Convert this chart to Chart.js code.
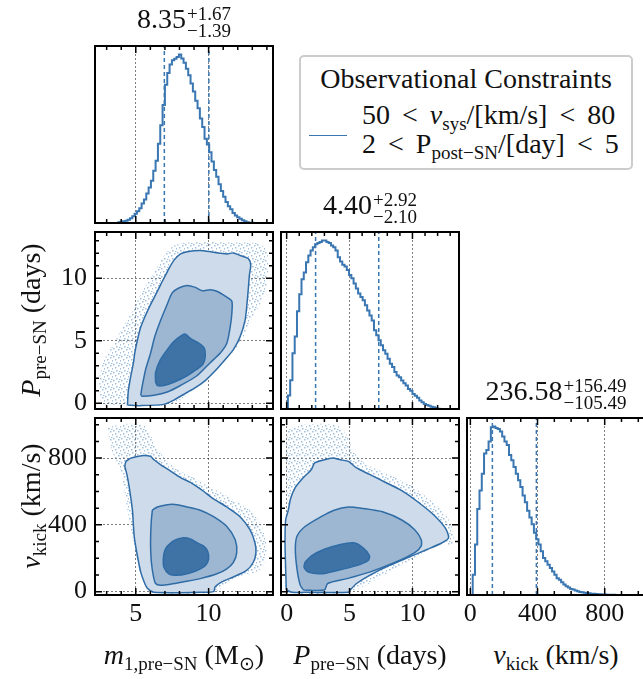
<!DOCTYPE html>
<html lang="en">
<head>
<meta charset="UTF-8">
<script src="https://cdn.jsdelivr.net/npm/chart.js"></script>
<title>Corner plot</title>
<style>
  body { margin: 0; background: #fff; }
  #fig { position: relative; width: 643px; height: 679px; overflow: hidden; font-family: "Liberation Serif", serif; color: #111; }
  #fig canvas { position: absolute; }
  .txt { position: absolute; white-space: nowrap; transform: translate(-50%, -50%); font-size: 28px; line-height: 1; }
  .rot { transform: translate(-50%, -50%) rotate(-90deg); }
  .ss { display: inline-block; vertical-align: middle; font-size: 19px; line-height: 17px; text-align: left; margin-left: 1px; }
  .ss span { display: block; }
  sub { font-size: 19px; vertical-align: -6px; line-height: 0; }
  .legend { position: absolute; left: 299px; top: 55px; width: 330px; height: 111px; border: 2px solid #ccc; border-radius: 5px; background: rgba(255,255,255,0.8); }
  .legend .row { position: absolute; white-space: nowrap; font-size: 28px; line-height: 1; transform: translateY(-50%); }
  .legend .math { word-spacing: 5px; }
  .legend .handle { position: absolute; left: 8px; top: 78px; width: 38px; height: 0; border-top: 1.5px solid #3a77b2; }
</style>
</head>
<body>
<div id="fig">
  <div class="txt" style="left:184px;top:22px">8.35<span class="ss"><span>+1.67</span><span>−1.39</span></span></div>
  <div class="txt" style="left:370px;top:208px">4.40<span class="ss"><span>+2.92</span><span>−2.10</span></span></div>
  <div class="txt" style="left:556px;top:394px">236.58<span class="ss"><span>+156.49</span><span>−105.49</span></span></div>

  <div class="txt" style="left:184px;top:655px"><i>m</i><sub>1,pre−SN</sub> (M<sub>⊙</sub>)</div>
  <div class="txt" style="left:370px;top:655px"><i>P</i><sub>pre−SN</sub> (days)</div>
  <div class="txt" style="left:556px;top:655px"><i>v</i><sub>kick</sub> (km/s)</div>
  <div class="txt rot" style="left:31px;top:320px"><i>P</i><sub>pre−SN</sub> (days)</div>
  <div class="txt rot" style="left:31px;top:506px"><i>v</i><sub>kick</sub> (km/s)</div>

  <div class="legend">
    <div class="row" style="left:0;width:330px;text-align:center;top:22px">Observational Constraints</div>
    <div class="row math" style="left:61px;top:58px">50 &lt; <i>v</i><sub>sys</sub>/[km/s] &lt; 80</div>
    <div class="row math" style="left:61px;top:87px">2 &lt; P<sub>post−SN</sub>/[day] &lt; 5</div>
    <div class="handle"></div>
  </div>
</div>

<script>
// axis ranges and ticks
const m1Range = [2.2, 14.42];
const pRange = [-0.45, 13.7];
const vRange = [-20, 1040];
const m1Major = [5, 10];
const pMajor = [0, 5, 10];
const vMajor = [0, 400, 800];
const m1Minor = [3, 4, 6, 7, 8, 9, 11, 12, 13, 14];
const pMinor = [1, 2, 3, 4, 6, 7, 8, 9, 11, 12, 13];
const vMinor = [100, 200, 300, 500, 600, 700, 900, 1000];

// 16/50/84 percentiles
const m1Quant = [6.96, 10.02];
const pQuant = [2.30, 7.32];
const vQuant = [131.09, 393.07];

// histograms (first bin edge, bin width, heights relative to peak)
const m1Start = 3.8, m1Width = 0.16;
const m1Counts = [0.002, 0.004, 0.007, 0.01, 0.014, 0.02, 0.028, 0.04, 0.055, 0.07, 0.088, 0.115, 0.14, 0.175, 0.21,
  0.25, 0.31, 0.37, 0.47, 0.58, 0.70, 0.82, 0.89, 0.94, 0.965, 0.975, 0.985, 1.0, 0.976, 0.95, 0.915, 0.876, 0.827,
  0.78, 0.725, 0.68, 0.62, 0.57, 0.50, 0.465, 0.42, 0.365, 0.315, 0.275, 0.23, 0.19, 0.155, 0.125, 0.10, 0.082, 0.06,
  0.044, 0.034, 0.025, 0.016, 0.01, 0.005, 0.002, 0.001];
const pStart = 0.1, pWidth = 0.18;
const pCounts = [0.01, 0.08, 0.17, 0.33, 0.43, 0.58, 0.68, 0.77, 0.81, 0.87, 0.91, 0.94, 0.96, 0.977, 0.985, 0.99, 1.0,
  1.0, 0.99, 0.985, 0.97, 0.96, 0.94, 0.90, 0.875, 0.855, 0.845, 0.825, 0.795, 0.775, 0.745, 0.715, 0.685, 0.665, 0.645,
  0.615, 0.585, 0.555, 0.525, 0.467, 0.437, 0.408, 0.378, 0.348, 0.328, 0.298, 0.268, 0.249, 0.219, 0.199, 0.189, 0.169,
  0.153, 0.139, 0.119, 0.109, 0.089, 0.079, 0.066, 0.05, 0.04, 0.03, 0.024, 0.02, 0.014, 0.01, 0.006, 0.002];
const vStart = 14, vWidth = 13.5;
const vCounts = [0.01, 0.12, 0.30, 0.51, 0.62, 0.72, 0.84, 0.86, 0.91, 0.995, 1.0, 0.99, 0.985, 0.97, 0.94, 0.91, 0.89,
  0.83, 0.80, 0.76, 0.72, 0.68, 0.64, 0.59, 0.55, 0.50, 0.46, 0.42, 0.37, 0.33, 0.30, 0.26, 0.22, 0.20, 0.18, 0.16, 0.14,
  0.12, 0.10, 0.09, 0.075, 0.063, 0.052, 0.044, 0.036, 0.032, 0.026, 0.022, 0.018, 0.016, 0.014, 0.012, 0.010, 0.008,
  0.007, 0.006, 0.005, 0.004, 0.003, 0.003, 0.002, 0.002, 0.001, 0.001];

// contours, m1 vs P  ([m1, P])
const mpHalo = [[2.61, 0], [2.5, 1.95], [2.84, 3.51], [3.52, 4.81], [4.09, 6.10], [4.66, 7.14], [5.11, 8.18], [5.57, 9.22],
  [6.14, 10.26], [6.59, 11.17], [7.05, 11.95], [7.61, 12.60], [8.52, 12.86], [9.89, 12.91], [11.70, 12.86], [13.30, 12.81],
  [13.98, 12.34], [14.09, 10.78], [13.86, 8.70], [13.41, 7.66], [12.89, 6.62], [12.16, 4.81], [9.43, 1.43], [7.16, -0.13], [2.61, -0.08]];
const mpOuter = [[4.43, -0.13], [4.48, 0.91], [4.66, 2.21], [4.84, 3.25], [4.93, 4.03], [5.11, 5.06], [5.34, 6.10], [5.61, 6.88],
  [5.91, 7.66], [6.25, 8.44], [6.70, 9.48], [7.16, 10.52], [7.61, 11.43], [8.07, 11.95], [8.52, 12.13], [9.43, 12.23],
  [10.34, 12.08], [11.25, 11.95], [11.70, 12.03], [12.16, 11.82], [12.73, 11.56], [12.89, 11.04], [12.80, 10.26], [12.73, 9.22],
  [12.61, 7.66], [12.5, 6.62], [12.16, 5.32], [11.70, 4.29], [11.14, 3.51], [10.45, 2.60], [9.77, 1.82], [8.98, 1.17],
  [8.18, 0.65], [7.61, 0.26], [6.93, -0.08], [5.34, -0.18]];
const mpMiddle = [[5.34, 0.65], [5.45, 1.43], [5.68, 2.73], [6.02, 4.03], [6.30, 5.32], [6.70, 6.62], [7.16, 7.92], [7.5, 8.83],
  [7.95, 9.22], [8.52, 9.43], [9.09, 9.27], [9.55, 9.01], [10.11, 9.09], [10.57, 8.96], [11.14, 8.57], [11.59, 8.18],
  [11.59, 7.14], [11.48, 6.10], [11.25, 4.81], [10.80, 4.03], [10.11, 3.25], [9.20, 2.21], [8.07, 1.43], [7.16, 0.91],
  [6.25, 0.65], [5.45, 0.57]];
const mpInner = [[6.36, 1.69], [6.36, 2.47], [6.70, 3.51], [7.16, 4.29], [7.61, 4.94], [8.18, 5.45], [8.41, 5.53], [8.75, 5.19],
  [9.32, 4.81], [9.70, 4.42], [9.77, 3.77], [9.61, 3.12], [9.20, 2.73], [8.52, 2.21], [7.61, 1.69], [6.93, 1.43], [6.48, 1.43]];

// contours, m1 vs v_kick  ([m1, v])
const mvHalo = [[3.07, 985], [4.43, 1005], [5.57, 995], [6.02, 936], [6.48, 858], [7.16, 780], [8.07, 722], [8.98, 683],
  [9.89, 634], [11.02, 585], [12.16, 527], [13.07, 468], [13.75, 371], [13.98, 254], [13.75, 156], [13.30, 117], [11.70, 78],
  [10.34, -4], [6.25, -4], [5.34, 98], [4.43, 488], [3.98, 722], [3.30, 858]];
const mvOuter = [[4.32, 780], [4.66, 800], [5.11, 810], [5.57, 816], [6.02, 810], [6.25, 790], [6.70, 761], [7.39, 722],
  [8.07, 683], [8.75, 654], [9.43, 615], [10.34, 556], [11.25, 507], [12.16, 449], [12.84, 371], [13.18, 293], [13.25, 234],
  [13.07, 176], [12.61, 127], [11.70, 88], [10.91, 59], [10.45, 29], [10.34, 0], [9.43, -4], [6.25, -4], [5.80, 20],
  [5.57, 59], [5.34, 117], [5.11, 215], [4.89, 332], [4.77, 488], [4.55, 624], [4.39, 702], [4.25, 751]];
const mvMiddle = [[6.14, 488], [6.48, 507], [7.16, 521], [7.84, 521], [8.52, 507], [9.43, 488], [10.34, 449], [11.25, 390],
  [11.82, 312], [11.93, 234], [11.70, 176], [11.25, 137], [10.57, 107], [9.43, 78], [8.30, 59], [7.39, 45], [6.70, 39],
  [6.36, 49], [6.20, 98], [6.07, 176], [6.02, 254], [6.02, 332], [6.07, 429]];
const mvInner = [[7.16, 273], [7.61, 306], [8.18, 322], [8.75, 316], [9.20, 293], [9.66, 273], [9.93, 244], [10.0, 195],
  [9.77, 156], [9.20, 127], [8.52, 107], [7.84, 98], [7.27, 107], [6.93, 146], [6.89, 195], [6.98, 244]];

// contours, P vs v_kick  ([P, v])
const pvHalo = [[0.05, 488], [0.05, 956], [0.95, 995], [2.74, 1005], [4.03, 995], [4.79, 936], [5.31, 839], [6.33, 761],
  [8.13, 702], [9.92, 634], [11.46, 546], [12.74, 449], [13.26, 351], [13.13, 273], [12.36, 293], [5.05, 0], [-0.03, 0]];
const pvOuter = [[-0.03, 10], [-0.08, 137], [-0.13, 293], [-0.08, 429], [0.13, 488], [0.31, 556], [0.69, 624], [1.33, 683],
  [1.97, 732], [2.23, 771], [3.0, 790], [3.64, 800], [4.28, 790], [4.92, 780], [5.56, 741], [6.59, 702], [7.87, 654],
  [9.15, 605], [10.44, 537], [11.72, 458], [12.62, 380], [12.87, 322], [12.36, 293], [11.21, 254], [9.67, 205], [8.13, 156],
  [6.59, 98], [5.56, 49], [5.05, 10], [4.92, -4], [1.46, -4], [0.44, -4]];
const pvMiddle = [[1.33, 10], [3.0, 10], [3.26, 49], [4.79, 78], [6.59, 117], [8.64, 176], [10.18, 234], [10.69, 273],
  [10.69, 312], [10.18, 371], [9.15, 429], [7.62, 478], [6.08, 498], [4.92, 507], [3.77, 488], [2.74, 449], [1.46, 390],
  [0.82, 332], [0.69, 254], [0.82, 137], [1.08, 39]];
const pvInner = [[1.46, 176], [1.97, 215], [3.0, 254], [4.28, 283], [5.31, 293], [6.08, 263], [6.59, 215], [6.46, 185],
  [5.56, 156], [4.03, 127], [2.74, 107], [1.72, 117], [1.38, 146]];

const HIST = '#3a77b2';
const EDGE = '#2f6ca6';
const FILL_OUT = '#cddbea', FILL_MID = '#9db7d2', FILL_IN = '#3f72a5';
const PW = 178, PH = 177, PAD_L = 70, PAD_T = 28, PAD_R = 8, PAD_B = 40;
const fig = document.getElementById('fig');

Chart.defaults.font.family = '"Liberation Serif", serif';
Chart.defaults.color = '#111';

// speckle used for the loose samples outside the outer contour
function speckle() {
  const c = document.createElement('canvas');
  c.width = 8; c.height = 8;
  const g = c.getContext('2d');
  g.fillStyle = 'rgba(80,138,198,0.55)';
  [[0, 0], [5, 1], [2, 3], [7, 4], [3, 6], [6, 7]].forEach(p => g.fillRect(p[0], p[1], 1.5, 1.5));
  return g.createPattern(c, 'repeat');
}
const SPECKLE = speckle();

// frame plus inward major/minor ticks on all four sides
const frame = {
  id: 'frame',
  afterDraw(chart, args, o) {
    const {ctx, chartArea: a, scales} = chart;
    ctx.save();
    ctx.strokeStyle = '#000';
    ctx.lineWidth = 1.5;
    ctx.beginPath();
    const xt = (vals, len) => vals.forEach(v => {
      const px = scales.x.getPixelForValue(v);
      ctx.moveTo(px, a.bottom); ctx.lineTo(px, a.bottom - len);
      ctx.moveTo(px, a.top); ctx.lineTo(px, a.top + len);
    });
    const yt = (vals, len) => vals.forEach(v => {
      const py = scales.y.getPixelForValue(v);
      ctx.moveTo(a.left, py); ctx.lineTo(a.left + len, py);
      ctx.moveTo(a.right, py); ctx.lineTo(a.right - len, py);
    });
    xt(o.xMajor || [], 7); xt(o.xMinor || [], 4);
    yt(o.yMajor || [], 7); yt(o.yMinor || [], 4);
    ctx.stroke();
    ctx.lineWidth = 2;
    ctx.strokeRect(a.left, a.top, a.right - a.left, a.bottom - a.top);
    ctx.restore();
  }
};

function axis(range, major, labels, grid, isX) {
  return {
    type: 'linear', min: range[0], max: range[1],
    afterBuildTicks: s => { s.ticks = major.map(v => ({value: v})); },
    afterFit: s => { if (isX) s.height = PAD_B; else s.width = PAD_L; },
    ticks: { display: labels, font: {size: 26}, color: '#111', padding: isX ? 4 : 8, maxRotation: 0, autoSkip: false },
    grid: { display: grid, color: 'rgba(0,0,0,0.5)', lineWidth: 1, drawTicks: false },
    border: { display: false, dash: [2, 2] }
  };
}

function stepPoints(start, width, counts) {
  const pts = [{x: start, y: 0}];
  counts.forEach((c, i) => pts.push({x: start + i * width, y: c}));
  pts.push({x: start + counts.length * width, y: 0});
  return pts;
}

function histSets(start, width, counts, quant) {
  const sets = [{
    data: stepPoints(start, width, counts), showLine: true, stepped: 'after',
    borderColor: HIST, borderWidth: 2, pointRadius: 0, fill: false, order: 1
  }];
  quant.forEach(q => sets.push({
    data: [{x: q, y: 0}, {x: q, y: 1.05}], showLine: true, borderColor: HIST, borderWidth: 1.5,
    borderDash: [4, 3], pointRadius: 0, fill: false, order: 0
  }));
  return sets;
}

function poly(pts, fillColor, edge, order) {
  const data = pts.map(p => ({x: p[0], y: p[1]}));
  data.push(data[0]);
  return {
    data, showLine: true, fill: 'shape', backgroundColor: fillColor,
    borderColor: edge ? EDGE : 'rgba(0,0,0,0)', borderWidth: edge ? 1.5 : 0,
    pointRadius: 0, tension: 0.25, order
  };
}

function contourSets(halo, outer, middle, inner) {
  return [
    poly(halo, SPECKLE, false, 9),
    poly(outer, FILL_OUT, true, 8),
    poly(middle, FILL_MID, true, 7),
    poly(inner, FILL_IN, true, 6)
  ];
}

function panel(left, top, datasets, xs, ys, ticks) {
  const cv = document.createElement('canvas');
  cv.width = PW + PAD_L + PAD_R;
  cv.height = PH + PAD_T + PAD_B;
  cv.style.left = (left - PAD_L) + 'px';
  cv.style.top = (top - PAD_T) + 'px';
  fig.insertBefore(cv, fig.firstChild);
  return new Chart(cv, {
    type: 'scatter',
    data: {datasets},
    options: {
      responsive: false, animation: false, events: [],
      layout: {padding: {top: PAD_T, right: PAD_R, left: 0, bottom: 0}},
      scales: {x: xs, y: ys},
      plugins: {legend: {display: false}, tooltip: {enabled: false}, frame: ticks}
    },
    plugins: [frame]
  });
}

const histY = () => axis([0, 1.05], [], false, false, false);

// row 0
panel(95, 46, histSets(m1Start, m1Width, m1Counts, m1Quant),
  axis(m1Range, m1Major, false, true, true), histY(),
  {xMajor: m1Major, xMinor: m1Minor});
// row 1
panel(95, 232, contourSets(mpHalo, mpOuter, mpMiddle, mpInner),
  axis(m1Range, m1Major, false, true, true), axis(pRange, pMajor, true, true, false),
  {xMajor: m1Major, xMinor: m1Minor, yMajor: pMajor, yMinor: pMinor});
panel(281, 232, histSets(pStart, pWidth, pCounts, pQuant),
  axis(pRange, pMajor, false, true, true), histY(),
  {xMajor: pMajor, xMinor: pMinor});
// row 2
panel(95, 418, contourSets(mvHalo, mvOuter, mvMiddle, mvInner),
  axis(m1Range, m1Major, true, true, true), axis(vRange, vMajor, true, true, false),
  {xMajor: m1Major, xMinor: m1Minor, yMajor: vMajor, yMinor: vMinor});
panel(281, 418, contourSets(pvHalo, pvOuter, pvMiddle, pvInner),
  axis(pRange, pMajor, true, true, true), axis(vRange, vMajor, false, true, false),
  {xMajor: pMajor, xMinor: pMinor, yMajor: vMajor, yMinor: vMinor});
panel(467, 418, histSets(vStart, vWidth, vCounts, vQuant),
  axis(vRange, vMajor, true, true, true), histY(),
  {xMajor: vMajor, xMinor: vMinor});
</script>
</body>
</html>
